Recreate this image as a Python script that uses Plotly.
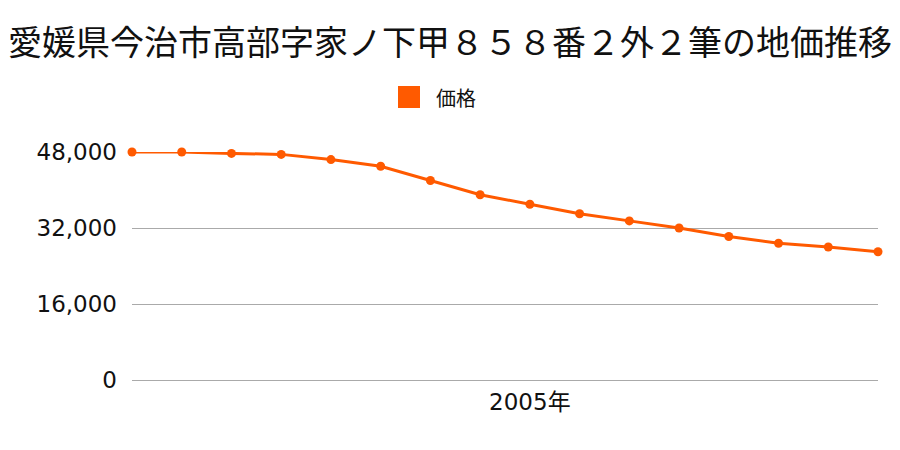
import plotly.graph_objects as go

years = list(range(1997, 2013))
prices = [48000, 48000, 47700, 47500, 46400, 45000, 42000, 39000, 37000, 35000, 33500, 32000, 30200, 28800, 28000, 27000]
y_ticks = [0, 16000, 32000, 48000]
y_tick_text = ["0", "16,000", "32,000", "48,000"]
x_ticks = [2005]
x_tick_text = ["2005年"]
series_name = "価格"

color = "#FF5A00"
cjk = "Noto Sans CJK JP"
tickfont = "DejaVu Sans, Noto Sans CJK JP"

fig = go.Figure()
fig.add_trace(go.Scatter(
    x=years, y=prices, mode="lines+markers",
    line=dict(color=color, width=3),
    marker=dict(color=color, size=9),
    showlegend=False, cliponaxis=False, name=series_name,
))

# manual legend (square swatch + label)
fig.add_shape(type="rect", xref="paper", yref="paper",
              x0=(398 - 132) / 746, x1=(420 - 132) / 746,
              y0=(380 - 108) / 228, y1=(380 - 86) / 228,
              fillcolor=color, line=dict(width=0))
fig.add_annotation(text=series_name, xref="paper", yref="paper",
                   x=(434 - 132) / 746, y=(380 - 97) / 228,
                   xanchor="left", yanchor="middle", showarrow=False,
                   font=dict(size=20, family=cjk, color="#111"))

fig.update_layout(
    width=900, height=450,
    margin=dict(l=132, r=22, t=152, b=70),
    paper_bgcolor="white", plot_bgcolor="white",
    font=dict(family=cjk, color="#111"),
    showlegend=False,
    title=dict(text="愛媛県今治市高部字家ノ下甲８５８番２外２筆の地価推移",
               x=0.5, xanchor="center", y=0.905, yanchor="middle",
               font=dict(size=34, family=cjk, color="#111")),
    xaxis=dict(range=[1997, 2012], tickvals=x_ticks, ticktext=x_tick_text,
               showgrid=False, zeroline=False, showline=False, ticks="",
               ticklabelstandoff=6,
               tickfont=dict(size=23, family=tickfont)),
    yaxis=dict(range=[0, 48000], tickvals=y_ticks, ticktext=y_tick_text,
               showgrid=True, gridcolor="#aaaaaa", gridwidth=1,
               zeroline=True, zerolinecolor="#aaaaaa", zerolinewidth=1,
               showline=False, ticks="", ticklabelstandoff=14,
               tickfont=dict(size=23, family=tickfont)),
)

fig.write_html("out.html")
